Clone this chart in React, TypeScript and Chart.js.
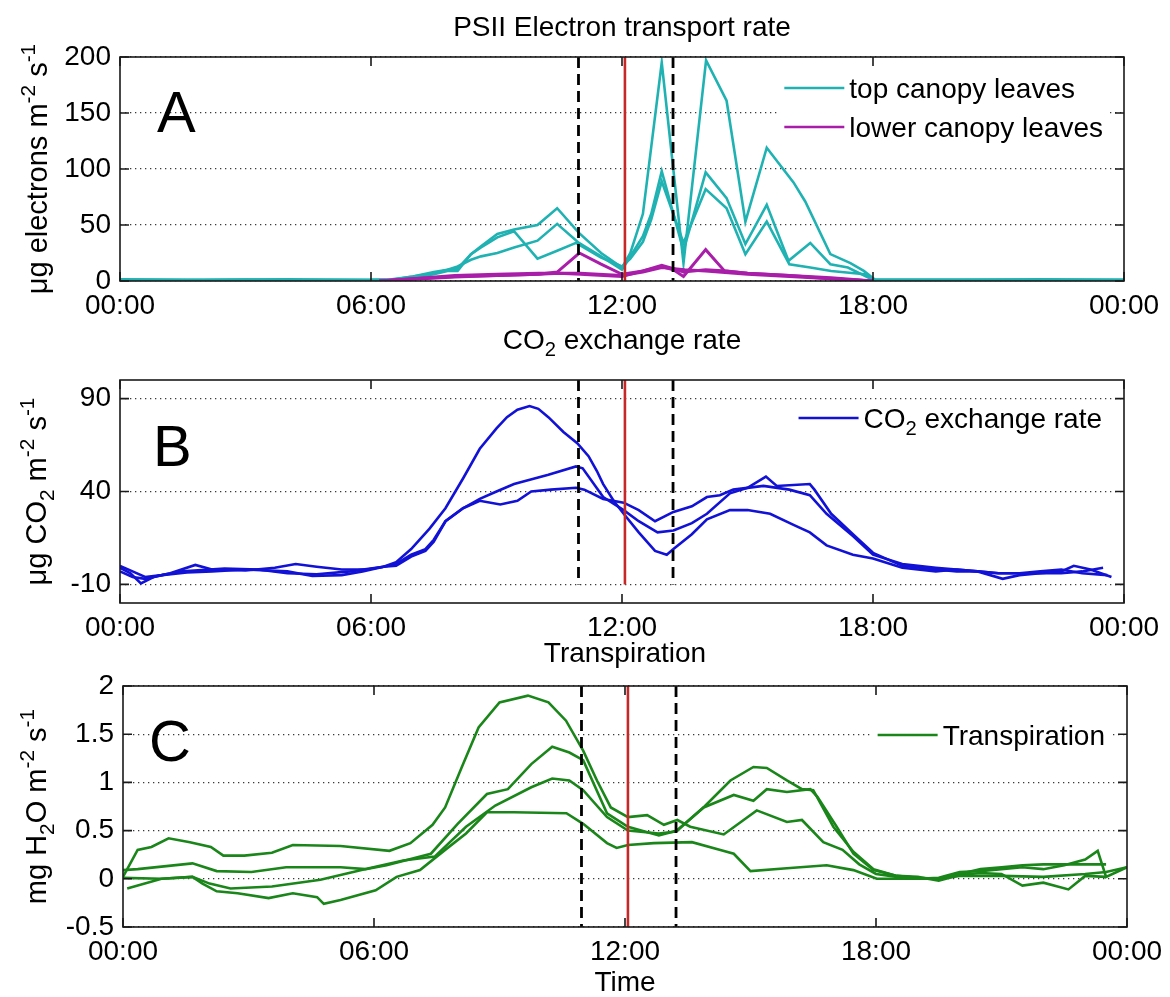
import React, { useEffect, useRef } from 'react';
import { Chart, registerables } from 'chart.js';

Chart.register(...registerables);

type Pt = [number, number];

const PAGE_W = 1170;
const FONT = '"Liberation Sans", Arial, Helvetica, sans-serif';

// ---------- shared axis data ----------
const hourTicks = [0, 6, 12, 18, 24];
const hourLabels = ['00:00', '06:00', '12:00', '18:00', '00:00'];
const dashedTimes = [10.96, 13.22];
const noonTime = 12.07;

// ---------- colours ----------
const CYAN = '#20b2b2';
const MAGENTA = '#a91ea9';
const BLUE = '#1212d6';
const GREEN = '#1a861a';
const RED = '#c62828';

// ---------- Panel A: PSII electron transport rate ----------
const aTitle = 'PSII Electron transport rate';
const aYTitle = '\u03bcg electrons m^{-2} s^{-1}';
const aYTicks = [0, 50, 100, 150, 200];
const topLabel = 'top canopy leaves';
const lowerLabel = 'lower canopy leaves';

const topCanopy1: Pt[] = [
  [0, 1], [1.5, 0.8], [3, 1.2], [4.5, 0.8], [6, 1], [6.5, 1.5], [7, 4], [7.5, 7], [7.83, 10], [8.07, 11],
  [8.39, 24], [8.63, 31], [9.02, 42], [9.42, 46], [9.98, 50], [10.45, 65], [10.97, 43], [11.5, 25], [12.0, 12],
  [12.2, 25], [12.5, 60], [12.7, 120], [12.95, 195], [13.47, 16], [14.01, 197], [14.5, 161], [14.95, 53],
  [15.46, 119], [16.1, 88], [16.38, 71], [16.98, 24], [17.46, 16], [17.78, 9], [18.05, 1], [20, 1], [22, 1.5], [24, 1],
];
const topCanopy2: Pt[] = [
  [0, 0.5], [3, 0.5], [6, 0.5], [6.5, 1], [7, 4], [7.5, 8], [7.83, 10], [8.07, 13], [8.39, 19], [8.63, 22],
  [9.02, 25], [9.42, 30], [9.98, 36], [10.45, 51], [10.97, 34], [11.5, 22], [12.0, 10], [12.2, 22], [12.5, 40],
  [12.7, 60], [12.95, 98], [13.47, 27], [14.0, 97], [14.5, 74], [14.95, 33], [15.46, 68], [15.98, 18], [16.5, 34],
  [16.98, 15], [17.4, 12], [18.0, 1], [24, 0.5],
];
const topCanopy3: Pt[] = [
  [0, 1.5], [2, 1], [4, 1.5], [6, 1], [6.5, 1], [7, 3], [7.5, 6], [7.83, 9], [8.07, 9], [8.39, 24], [8.63, 30],
  [9.02, 39], [9.42, 44.5], [9.98, 20], [10.45, 27], [10.9, 34], [11.5, 21], [12.0, 13], [12.2, 20], [12.5, 35],
  [12.7, 55], [12.95, 89], [13.47, 34], [14.0, 82], [14.5, 65], [14.95, 24], [15.46, 53], [16.0, 15], [16.5, 12],
  [17.0, 9], [17.8, 6], [18.0, 1], [21, 1], [24, 1],
];
const lowerCanopy1: Pt[] = [
  [6.2, 0], [7, 2], [8, 4], [9, 5], [10, 6], [10.45, 8], [10.98, 25], [11.5, 15], [12.0, 6], [12.5, 9],
  [12.95, 14], [13.23, 11], [13.47, 8], [14.0, 10], [14.5, 9], [15, 7], [16, 5], [17, 3], [18, 0],
];
const lowerCanopy2: Pt[] = [
  [6.2, 0], [7, 1.5], [8, 3.5], [9, 5], [10, 6], [10.5, 7], [11, 6], [12.0, 4], [12.5, 9], [12.95, 13],
  [13.23, 10], [13.47, 4], [14.0, 28], [14.45, 9], [15, 7], [16, 5], [17, 2], [18, 0],
];
const lowerCanopy3: Pt[] = [
  [6.2, 0], [7, 2], [8, 5], [9, 6], [10, 7], [11, 7], [12.0, 5], [12.5, 8], [12.95, 12], [13.5, 10], [14, 9],
  [15, 6], [16, 4], [17, 2], [18, 0],
];

// ---------- Panel B: CO2 exchange rate ----------
const bTitle = 'CO_{2} exchange rate';
const bYTitle = '\u03bcg CO_{2} m^{-2} s^{-1}';
const bYTicks = [-10, 40, 90];
const co2Label = 'CO_{2} exchange rate';

const co2Rate1: Pt[] = [
  [0, -1], [0.25, -4], [0.5, -9.5], [0.8, -6], [1.2, -4], [1.8, 0.5], [2.2, -2], [3, -2.5], [3.7, -1], [4.2, 1],
  [4.7, -0.5], [5.3, -2], [5.9, -2], [6.3, -0.5], [6.6, 2], [6.96, 9], [7.4, 20], [7.78, 31], [8.2, 47], [8.6, 63],
  [9.0, 74], [9.25, 80], [9.5, 84], [9.79, 86], [10.0, 84.5], [10.24, 80], [10.6, 72], [10.93, 66], [11.2, 59],
  [11.4, 51], [11.55, 44], [11.8, 35], [12.04, 28], [12.4, 18], [12.79, 8], [13.07, 6], [13.23, 9], [13.67, 17],
  [14.03, 25], [14.58, 30], [15.0, 30], [15.54, 28], [16.1, 22], [16.49, 18], [16.89, 11], [17.52, 6], [18, 4],
  [18.7, -1], [19.5, -3], [20, -2], [20.5, -3], [21, -4], [21.5, -4], [22, -3], [22.5, -2], [23, -4], [23.6, -5],
];
const co2Rate2: Pt[] = [
  [0, -3], [0.3, -6], [0.6, -7], [1, -5], [1.6, -3.5], [2.2, -3], [3, -2], [4, -3], [4.6, -5.5], [5.3, -5],
  [5.8, -3], [6.3, -0.5], [6.6, 1], [6.96, 6], [7.3, 9], [7.5, 14], [7.78, 24], [8.2, 31], [8.6, 36], [9.0, 40],
  [9.42, 44], [10.24, 49], [10.9, 53.5], [11.06, 52.5], [11.55, 37], [12.04, 30], [12.4, 24], [12.85, 18],
  [13.23, 19], [13.67, 23], [14.03, 28], [14.58, 39], [15.0, 42], [15.44, 48], [15.7, 43], [16.49, 44],
  [16.6, 41], [17.0, 28], [17.52, 17], [18, 7], [18.7, 0], [19.5, -2], [20, -3], [20.5, -3], [21.1, -7],
  [21.5, -5], [22, -4], [22.5, -3], [22.8, 0], [23.2, -2], [23.7, -6],
];
const co2Rate3: Pt[] = [
  [0, 0], [0.3, -3], [0.6, -6], [1, -5], [1.5, -3], [2.5, -1.5], [3.3, -2], [4, -4], [4.7, -4.5], [5.5, -3],
  [6.3, -0.5], [6.6, 0], [6.96, 5], [7.3, 8], [7.5, 13], [7.78, 24], [8.2, 31], [8.6, 35], [9.09, 33], [9.5, 35],
  [9.83, 40], [10.3, 41], [10.9, 42], [11.1, 41], [11.55, 36], [12.04, 34], [12.4, 30], [12.79, 24], [13.23, 29],
  [13.67, 32], [14.03, 37], [14.34, 38], [14.66, 41], [15.38, 43], [16.0, 41], [16.49, 38], [16.89, 28],
  [17.52, 16], [18, 6], [18.7, 1], [19.5, -1], [20, -2], [20.5, -3], [21, -4], [22, -4], [22.5, -4], [23, -3],
  [23.5, -1],
];

// ---------- Panel C: Transpiration ----------
const cTitle = 'Transpiration';
const cYTitle = 'mg H_{2}O m^{-2} s^{-1}';
const cYTicks = [-0.5, 0, 0.5, 1, 1.5, 2];
const cXTitle = 'Time';
const transLabel = 'Transpiration';

const transpiration1: Pt[] = [
  [0, 0.02], [0.35, 0.3], [0.68, 0.33], [1.09, 0.42], [1.6, 0.38], [2.1, 0.33], [2.4, 0.24], [2.9, 0.24],
  [3.56, 0.27], [4.06, 0.35], [5.2, 0.34], [6.37, 0.29], [6.87, 0.37], [7.4, 0.56], [7.7, 0.74], [8.1, 1.16],
  [8.5, 1.57], [9.0, 1.83], [9.68, 1.9], [10.17, 1.83], [10.59, 1.64], [11.0, 1.33], [11.33, 1.02], [11.66, 0.74],
  [12.07, 0.64], [12.53, 0.66], [12.93, 0.56], [13.25, 0.61], [13.56, 0.54], [14.36, 0.46], [15.15, 0.71],
  [15.87, 0.59], [16.23, 0.61], [16.74, 0.38], [17.2, 0.3], [17.6, 0.15], [18.0, 0.05], [18.5, 0.02], [19, 0],
  [19.5, 0.01], [20, 0.07], [20.5, 0.08], [21, 0.1], [21.5, 0.12], [22, 0.1], [22.5, 0.14], [23, 0.2],
  [23.3, 0.29], [23.5, 0.02], [24, 0.12],
];
const transpiration2: Pt[] = [
  [0, 0.09], [0.35, 0.1], [1.66, 0.16], [2.24, 0.08], [3.07, 0.07], [3.9, 0.12], [5.2, 0.12], [5.8, 0.1],
  [6.3, 0.14], [7.36, 0.26], [8.0, 0.57], [8.7, 0.88], [9.2, 0.93], [9.76, 1.19], [10.26, 1.37], [10.67, 1.31],
  [11.0, 1.23], [11.57, 0.68], [12.07, 0.54], [12.81, 0.45], [13.25, 0.5], [13.9, 0.75], [14.52, 1.02],
  [15.07, 1.16], [15.39, 1.15], [15.87, 1.02], [16.23, 0.93], [16.5, 0.92], [16.98, 0.54], [17.46, 0.28],
  [17.94, 0.1], [18.5, 0.03], [19, 0.01], [19.5, 0], [20, 0.05], [20.5, 0.1], [21, 0.12], [21.5, 0.14],
  [22, 0.15], [22.5, 0.15], [23, 0.15], [23.5, 0.15],
];
const transpiration3: Pt[] = [
  [0.1, -0.1], [0.92, 0], [1.66, 0.02], [2.07, -0.05], [2.57, -0.1], [3.56, -0.08], [4.72, -0.01], [5.88, 0.11],
  [6.7, 0.19], [7.45, 0.23], [8.2, 0.54], [8.9, 0.76], [9.76, 0.95], [10.26, 1.04], [10.67, 1.02], [11.0, 0.92],
  [11.57, 0.64], [12.07, 0.5], [12.81, 0.47], [13.21, 0.49], [13.88, 0.74], [14.6, 0.87], [15.07, 0.81],
  [15.39, 0.93], [15.87, 0.9], [16.43, 0.93], [16.6, 0.85], [17.06, 0.54], [17.46, 0.26], [17.94, 0.09],
  [18.5, 0.03], [19, 0.02], [19.5, -0.02], [20, 0.04], [20.5, 0.06], [21, 0.05], [21.5, -0.07], [22, -0.04],
  [22.6, -0.11], [23, 0.03], [23.5, 0.02],
];
const transpiration4: Pt[] = [
  [0, 0.01], [0.92, 0], [1.66, 0.02], [1.9, -0.05], [2.24, -0.13], [2.74, -0.15], [3.48, -0.2], [4.06, -0.15],
  [4.64, -0.19], [4.8, -0.26], [5.2, -0.22], [6.04, -0.12], [6.54, 0.02], [7.1, 0.09], [7.7, 0.3], [8.2, 0.47],
  [8.7, 0.69], [9.35, 0.69], [10.6, 0.68], [11.0, 0.57], [11.57, 0.37], [11.8, 0.32], [12.07, 0.35],
  [12.69, 0.37], [13.6, 0.38], [14.28, 0.3], [14.6, 0.26], [15.0, 0.08], [15.87, 0.11], [16.82, 0.14],
  [17.46, 0.09], [18.02, 0], [19, 0], [19.5, 0], [20, 0.03], [21, 0.03], [22, 0.02], [23, 0.05], [23.5, 0.07],
  [24, 0.12],
];

// ---------- rich text helper (super/subscripts) ----------
type Seg = { t: string; k: number };
function parseRich(s: string): Seg[] {
  const segs: Seg[] = [];
  let i = 0;
  let buf = '';
  while (i < s.length) {
    const c = s[i];
    if ((c === '^' || c === '_') && s[i + 1] === '{') {
      if (buf) { segs.push({ t: buf, k: 0 }); buf = ''; }
      const end = s.indexOf('}', i + 2);
      segs.push({ t: s.slice(i + 2, end), k: c === '^' ? 1 : -1 });
      i = end + 1;
    } else {
      buf += c;
      i++;
    }
  }
  if (buf) segs.push({ t: buf, k: 0 });
  return segs;
}
function measureRich(ctx: CanvasRenderingContext2D, s: string, size: number): number {
  let w = 0;
  for (const g of parseRich(s)) {
    ctx.font = `${g.k ? size * 0.72 : size}px ${FONT}`;
    w += ctx.measureText(g.t).width;
  }
  return w;
}
function drawRich(ctx: CanvasRenderingContext2D, s: string, x: number, y: number, size: number, align: string) {
  const total = measureRich(ctx, s, size);
  let cx = align === 'center' ? x - total / 2 : align === 'right' ? x - total : x;
  ctx.textAlign = 'left';
  ctx.textBaseline = 'alphabetic';
  ctx.fillStyle = '#000';
  for (const g of parseRich(s)) {
    const sz = g.k ? size * 0.72 : size;
    ctx.font = `${sz}px ${FONT}`;
    const dy = g.k === 1 ? -size * 0.42 : g.k === -1 ? size * 0.26 : 0;
    ctx.fillText(g.t, cx, y + dy);
    cx += ctx.measureText(g.t).width;
  }
}

// ---------- panel specs ----------
interface Series { label: string; color: string; data: Pt[]; order: number; width: number }
interface PanelSpec {
  canvasTop: number;
  canvasHeight: number;
  area: { left: number; right: number; top: number; bottom: number };
  yMin: number;
  yMax: number;
  yTicks: number[];
  dashLow: number;
  redLow: number;
  title: string;
  titleY: number;
  yTitle: string;
  yTitleX: number;
  letter: string;
  letterDx: number;
  letterDy: number;
  legendRows: number[];
  legendGap: number;
  xTitle?: string;
  xTitleY?: number;
  series: Series[];
}

const panels: PanelSpec[] = [
  {
    canvasTop: 0, canvasHeight: 320,
    area: { left: 120, right: 1124, top: 57, bottom: 281 },
    yMin: 0, yMax: 200, yTicks: aYTicks, dashLow: 0, redLow: 0,
    title: aTitle, titleY: 36,
    yTitle: aYTitle, yTitleX: 47,
    letter: 'A', letterDx: 37, letterDy: 75,
    legendRows: [31, 70], legendGap: 21,
    series: [
      { label: lowerLabel, color: MAGENTA, data: lowerCanopy1, order: 1, width: 3 },
      { label: lowerLabel, color: MAGENTA, data: lowerCanopy2, order: 1, width: 3 },
      { label: lowerLabel, color: MAGENTA, data: lowerCanopy3, order: 1, width: 3 },
      { label: topLabel, color: CYAN, data: topCanopy1, order: 2, width: 2.6 },
      { label: topLabel, color: CYAN, data: topCanopy2, order: 2, width: 2.6 },
      { label: topLabel, color: CYAN, data: topCanopy3, order: 2, width: 2.6 },
    ],
  },
  {
    canvasTop: 320, canvasHeight: 322,
    area: { left: 120, right: 1124, top: 60, bottom: 283 },
    yMin: -20, yMax: 100, yTicks: bYTicks, dashLow: -10, redLow: -10,
    title: bTitle, titleY: 29,
    yTitle: bYTitle, yTitleX: 46,
    letter: 'B', letterDx: 33, letterDy: 86,
    legendRows: [38], legendGap: 22,
    series: [
      { label: co2Label, color: BLUE, data: co2Rate1, order: 1, width: 2.6 },
      { label: co2Label, color: BLUE, data: co2Rate2, order: 1, width: 2.6 },
      { label: co2Label, color: BLUE, data: co2Rate3, order: 1, width: 2.6 },
    ],
  },
  {
    canvasTop: 642, canvasHeight: 355,
    area: { left: 123, right: 1127, top: 44, bottom: 285 },
    yMin: -0.5, yMax: 2, yTicks: cYTicks, dashLow: -0.5, redLow: -0.5,
    title: cTitle, titleY: 20,
    yTitle: cYTitle, yTitleX: 46,
    letter: 'C', letterDx: 26, letterDy: 75,
    legendRows: [49], legendGap: 22,
    xTitle: cXTitle, xTitleY: 349,
    series: [
      { label: transLabel, color: GREEN, data: transpiration1, order: 1, width: 2.6 },
      { label: transLabel, color: GREEN, data: transpiration2, order: 1, width: 2.6 },
      { label: transLabel, color: GREEN, data: transpiration3, order: 1, width: 2.6 },
      { label: transLabel, color: GREEN, data: transpiration4, order: 1, width: 2.6 },
    ],
  },
];

// ---------- decorations plugin ----------
function decorPlugin(spec: PanelSpec) {
  return {
    id: 'decor',
    afterDraw(chart: any) {
      const ctx: CanvasRenderingContext2D = chart.ctx;
      const a = chart.chartArea;
      const xs = chart.scales.x;
      const ys = chart.scales.y;
      ctx.save();
      // axes box
      ctx.strokeStyle = '#1a1a1a';
      ctx.lineWidth = 1.6;
      ctx.setLineDash([]);
      ctx.strokeRect(a.left, a.top, a.right - a.left, a.bottom - a.top);
      // inward tick marks
      ctx.beginPath();
      const TL = 9;
      for (const t of xs.ticks) {
        const px = xs.getPixelForValue(t.value);
        ctx.moveTo(px, a.bottom); ctx.lineTo(px, a.bottom - TL);
        ctx.moveTo(px, a.top); ctx.lineTo(px, a.top + TL);
      }
      for (const t of ys.ticks) {
        const py = ys.getPixelForValue(t.value);
        ctx.moveTo(a.left, py); ctx.lineTo(a.left + TL, py);
        ctx.moveTo(a.right, py); ctx.lineTo(a.right - TL, py);
      }
      ctx.stroke();

      // title above the axes
      drawRich(ctx, spec.title, (a.left + a.right) / 2, spec.titleY, 28, 'center');
      // x title
      if (spec.xTitle) drawRich(ctx, spec.xTitle, (a.left + a.right) / 2, spec.xTitleY!, 28, 'center');
      // y title (rotated)
      ctx.save();
      ctx.translate(spec.yTitleX, (a.top + a.bottom) / 2);
      ctx.rotate(-Math.PI / 2);
      drawRich(ctx, spec.yTitle, 0, 0, 29, 'center');
      ctx.restore();
      // panel letter
      ctx.font = `58px ${FONT}`;
      ctx.fillStyle = '#000';
      ctx.textAlign = 'left';
      ctx.textBaseline = 'alphabetic';
      ctx.fillText(spec.letter, a.left + spec.letterDx, a.top + spec.letterDy);

      // legend (one entry per label)
      const seen: { label: string; color: string }[] = [];
      for (const ds of chart.data.datasets) {
        if (ds.label.startsWith('_')) continue;
        if (!seen.find((s) => s.label === ds.label)) seen.push({ label: ds.label, color: ds.borderColor });
      }
      const order = [...seen].sort((p, q) => (p.label === topLabel ? -1 : q.label === topLabel ? 1 : 0));
      const LF = 28;
      const maxW = Math.max(...order.map((r) => measureRich(ctx, r.label, LF)));
      const textEnd = a.right - spec.legendGap;
      const textStart = textEnd - maxW;
      const lineEnd = textStart - 5;
      const lineStart = lineEnd - 60;
      const firstY = a.top + spec.legendRows[0];
      const lastY = a.top + spec.legendRows[spec.legendRows.length - 1];
      ctx.fillStyle = '#fff';
      ctx.fillRect(lineStart - 6, firstY - 18, textEnd - lineStart + 12, lastY - firstY + 36);
      order.forEach((r, i) => {
        const y = a.top + spec.legendRows[i];
        ctx.strokeStyle = r.color;
        ctx.lineWidth = 2.6;
        ctx.beginPath();
        ctx.moveTo(lineStart, y);
        ctx.lineTo(lineEnd, y);
        ctx.stroke();
        drawRich(ctx, r.label, textStart, y + LF * 0.35, LF, 'left');
      });
      ctx.restore();
    },
  };
}

function buildChart(canvas: HTMLCanvasElement, spec: PanelSpec) {
  const datasets: any[] = [];
  for (const t of dashedTimes) {
    datasets.push({
      label: '_dash', data: [{ x: t, y: spec.yMax }, { x: t, y: spec.dashLow }],
      borderColor: '#000', borderWidth: 2.8, borderDash: [11, 6], pointRadius: 0, order: 0,
    });
  }
  datasets.push({
    label: '_noon', data: [{ x: noonTime, y: spec.yMax }, { x: noonTime, y: spec.redLow }],
    borderColor: RED, borderWidth: 2.6, pointRadius: 0, order: 0,
  });
  for (const s of spec.series) {
    datasets.push({
      label: s.label, data: s.data.map(([x, y]) => ({ x, y })), borderColor: s.color,
      borderWidth: s.width, pointRadius: 0, tension: 0, order: s.order,
    });
  }
  const H = spec.canvasHeight;
  return new Chart(canvas, {
    type: 'line',
    data: { datasets },
    options: {
      animation: false,
      responsive: false,
      devicePixelRatio: 1,
      events: [],
      layout: { padding: { left: 0, right: PAGE_W - spec.area.right, top: spec.area.top, bottom: 0 } },
      plugins: { legend: { display: false }, tooltip: { enabled: false }, title: { display: false } },
      scales: {
        x: {
          type: 'linear', min: 0, max: 24,
          afterBuildTicks: (sc: any) => { sc.ticks = hourTicks.map((v) => ({ value: v })); },
          afterFit: (sc: any) => { sc.height = H - spec.area.bottom; },
          ticks: {
            callback: (_v: any, i: number) => hourLabels[i],
            font: { family: FONT, size: 28 }, color: '#000', maxRotation: 0, autoSkip: false, padding: 0,
          },
          grid: { display: false },
          border: { display: false },
        },
        y: {
          type: 'linear', min: spec.yMin, max: spec.yMax,
          afterBuildTicks: (sc: any) => { sc.ticks = spec.yTicks.map((v) => ({ value: v })); },
          afterFit: (sc: any) => { sc.width = spec.area.left; },
          ticks: {
            callback: (v: any) => String(v),
            font: { family: FONT, size: 28 }, color: '#000', autoSkip: false, padding: 9,
          },
          grid: { color: '#3a3a3a', lineWidth: 1.3, drawTicks: false },
          border: { display: false, dash: [1.3, 3.7] },
        },
      },
    } as any,
    plugins: [decorPlugin(spec)],
  });
}

function Panel({ spec }: { spec: PanelSpec }) {
  const ref = useRef<HTMLCanvasElement>(null);
  useEffect(() => {
    const chart = buildChart(ref.current!, spec);
    return () => chart.destroy();
  }, [spec]);
  return (
    <canvas
      ref={ref}
      width={PAGE_W}
      height={spec.canvasHeight}
      style={{ position: 'absolute', left: 0, top: spec.canvasTop, width: PAGE_W, height: spec.canvasHeight }}
    />
  );
}

export default function App() {
  return (
    <div style={{ position: 'absolute', left: 0, top: 0, width: PAGE_W, height: 997, background: '#fff', overflow: 'hidden' }}>
      {panels.map((p, i) => (
        <Panel key={i} spec={p} />
      ))}
    </div>
  );
}
